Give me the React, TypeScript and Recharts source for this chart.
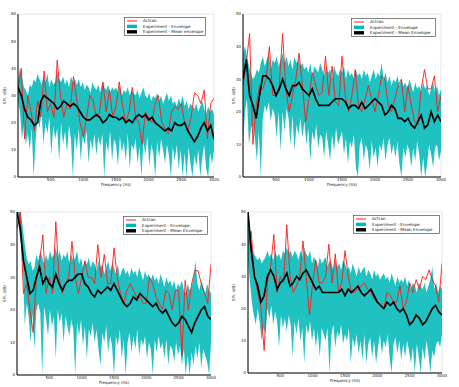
import React from "react";
import {
  ComposedChart,
  Line,
  Area,
  XAxis,
  YAxis,
  CartesianGrid,
} from "recharts";

// Frequency grids (Hz)
const FREQ_ENV = [
  0, 30, 60, 90, 120, 150, 180, 210, 240, 270,
  300, 330, 360, 390, 420, 450, 480, 510, 540, 570,
  600, 630, 660, 690, 720, 750, 780, 810, 840, 870,
  900, 930, 960, 990, 1020, 1050, 1080, 1110, 1140, 1170,
  1200, 1230, 1260, 1290, 1320, 1350, 1380, 1410, 1440, 1470,
  1500, 1530, 1560, 1590, 1620, 1650, 1680, 1710, 1740, 1770,
  1800, 1830, 1860, 1890, 1920, 1950, 1980, 2010, 2040, 2070,
  2100, 2130, 2160, 2190, 2220, 2250, 2280, 2310, 2340, 2370,
  2400, 2430, 2460, 2490, 2520, 2550, 2580, 2610, 2640, 2670,
  2700, 2730, 2760, 2790, 2820, 2850, 2880, 2910, 2940, 2970,
  3000,
];
const FREQ_LINE = [
  0, 50, 100, 150, 200, 250, 300, 350, 400, 450,
  500, 550, 600, 650, 700, 750, 800, 850, 900, 950,
  1000, 1050, 1100, 1150, 1200, 1250, 1300, 1350, 1400, 1450,
  1500, 1550, 1600, 1650, 1700, 1750, 1800, 1850, 1900, 1950,
  2000, 2050, 2100, 2150, 2200, 2250, 2300, 2350, 2400, 2450,
  2500, 2550, 2600, 2650, 2700, 2750, 2800, 2850, 2900, 2950,
  3000,
];
const X_TICKS = [500, 1000, 1500, 2000, 2500, 3000];

// Microphone 1
const mic1High = [
  35, 40, 37, 33, 32, 30, 34, 33, 36, 35,
  38, 36, 34, 37, 35, 38, 33, 36, 34, 35,
  39, 36, 35, 37, 34, 36, 33, 37, 35, 36,
  34, 36, 33, 35, 32, 34, 33, 31, 35, 33,
  32, 34, 31, 35, 33, 32, 34, 31, 33, 32,
  33, 31, 34, 30, 32, 31, 33, 30, 32, 31,
  30, 32, 29, 31, 33, 30, 29, 31, 28, 30,
  29, 31, 28, 30, 27, 29, 31, 28, 30, 27,
  28, 26, 29, 27, 30, 26, 28, 25, 27, 26,
  25, 27, 24, 26, 28, 25, 23, 26, 24, 25,
  23,
];
const mic1Low = [
  28, 24, 14, 20, 12, 16, 10, 18, 0, 14,
  22, 18, 24, 12, 20, 16, 22, 8, 19, 14,
  18, 6, 20, 12, 17, 9, 19, 14, 0, 16,
  10, 18, 6, 15, 12, 17, 5, 14, 10, 16,
  8, 15, 11, 16, 0, 13, 9, 17, 6, 14,
  12, 4, 15, 9, 13, 6, 16, 3, 12, 10,
  14, 5, 11, 0, 13, 8, 15, 4, 12, 9,
  0, 13, 7, 14, 10, 5, 12, 8, 0, 11,
  6, 12, 3, 10, 0, 9, 0, 11, 5, 0,
  8, 4, 10, 0, 7, 12, 3, 0, 9, 5,
  10,
];
const mic1Mean = [
  33, 30, 25, 22, 21, 19, 20, 28, 30, 29,
  28, 27, 25, 26, 28, 27, 26, 27, 26, 24,
  22, 21, 21, 22, 23, 22, 20, 21, 23, 22,
  22, 21, 22, 20, 21, 20, 22, 23, 22, 23,
  21, 22, 20, 19, 18, 17, 18, 17, 20, 19,
  19, 20, 17, 15, 13, 15, 18, 20, 17, 19,
  14,
];
const mic1Actran = [
  32, 40, 14, 30, 24, 17, 28, 22, 39, 24,
  27, 22, 43, 30, 22, 27, 25, 37, 28, 20,
  15, 22, 30, 28, 22, 24, 35, 24, 32, 22,
  26, 35, 26, 20, 24, 33, 22, 20, 12, 24,
  22, 20, 27, 30, 20, 18, 16, 24, 26, 25,
  27, 20, 17, 22, 31, 30, 27, 32, 14, 27,
  29,
];

// Microphone 2
const mic2High = [
  38, 40, 37, 34, 32, 30, 31, 33, 32, 35,
  37, 34, 36, 38, 33, 36, 35, 37, 34, 36,
  38, 35, 37, 34, 36, 33, 37, 35, 36, 34,
  35, 33, 34, 32, 35, 31, 34, 33, 32, 35,
  33, 31, 34, 32, 33, 30, 34, 32, 31, 33,
  32, 34, 30, 33, 31, 32, 30, 33, 31, 32,
  30, 33, 31, 32, 29, 31, 33, 30, 32, 31,
  35, 30, 32, 29, 31, 28, 30, 29, 31, 28,
  30, 28, 29, 27, 30, 28, 26, 29, 27, 28,
  26, 29, 27, 28, 25, 27, 29, 26, 28, 25,
  27,
];
const mic2Low = [
  10, 20, 24, 10, 15, 16, 12, 5, 14, 0,
  18, 22, 20, 23, 17, 21, 19, 12, 20, 8,
  20, 14, 21, 18, 10, 19, 8, 16, 13, 18,
  12, 17, 10, 15, 5, 14, 11, 16, 9, 13,
  12, 6, 14, 10, 5, 13, 8, 15, 10, 12,
  14, 7, 12, 4, 11, 9, 13, 3, 0, 10,
  12, 5, 10, 8, 2, 11, 6, 9, 3, 10,
  8, 12, 5, 10, 12, 7, 10, 6, 11, 4,
  0, 9, 6, 10, 8, 3, 9, 5, 11, 7,
  0, 6, 0, 4, 10, 7, 3, 9, 10, 5,
  8,
];
const mic2Mean = [
  30, 36, 25, 22, 18, 25, 31, 31, 30, 28,
  25, 27, 30, 27, 25, 28, 28, 29, 27, 26,
  25, 27, 24, 22, 22, 22, 22, 23, 24, 24,
  24, 23, 21, 22, 22, 21, 23, 21, 22, 23,
  24, 23, 22, 19, 20, 22, 21, 18, 18, 17,
  18, 16, 15, 17, 19, 15, 16, 20, 17, 19,
  17,
];
const mic2Actran = [
  28, 35, 44, 10, 22, 28, 27, 30, 40, 25,
  25, 28, 44, 27, 20, 25, 30, 38, 28, 17,
  24, 32, 28, 25, 26, 37, 25, 34, 23, 22,
  37, 25, 20, 25, 33, 22, 20, 24, 28, 24,
  20, 25, 31, 30, 22, 20, 24, 28, 30, 20,
  28, 22, 17, 16, 27, 33, 27, 27, 31, 20,
  25,
];

// Microphone 3
const mic3High = [
  50, 50, 50, 45, 40, 36, 34, 35, 32, 33,
  37, 35, 38, 36, 34, 37, 35, 38, 36, 37,
  39, 36, 38, 35, 37, 36, 38, 34, 37, 35,
  36, 38, 34, 36, 33, 35, 34, 36, 33, 35,
  34, 32, 35, 33, 34, 31, 33, 35, 32, 34,
  33, 31, 34, 30, 32, 33, 31, 32, 30, 33,
  31, 32, 30, 33, 31, 29, 32, 30, 31, 29,
  31, 29, 30, 28, 31, 29, 27, 30, 28, 29,
  27, 29, 26, 28, 27, 29, 26, 25, 28, 26,
  27, 30, 35, 28, 26, 29, 27, 25, 28, 26,
  25,
];
const mic3Low = [
  50, 45, 40, 35, 15, 22, 18, 10, 19, 8,
  20, 22, 19, 0, 21, 17, 12, 20, 15, 18,
  5, 20, 16, 19, 10, 18, 15, 12, 17, 14,
  0, 16, 12, 17, 9, 15, 5, 14, 12, 16,
  10, 14, 8, 3, 13, 10, 15, 7, 12, 9,
  0, 12, 9, 14, 5, 11, 0, 10, 13, 7,
  12, 8, 14, 6, 11, 9, 12, 5, 10, 8,
  0, 11, 7, 12, 8, 10, 5, 11, 3, 9,
  8, 4, 10, 6, 9, 3, 8, 0, 6, 0,
  7, 3, 9, 5, 10, 2, 8, 6, 4, 0,
  10,
];
const mic3Mean = [
  50, 45, 35, 30, 25, 26, 30, 33, 28, 30,
  28, 27, 31, 28, 26, 28, 29, 29, 30, 31,
  31, 28, 27, 25, 24, 26, 25, 26, 27, 26,
  28, 26, 24, 22, 21, 22, 24, 23, 25, 24,
  23, 22, 21, 22, 20, 19, 20, 18, 16, 15,
  16, 18, 17, 15, 13, 16, 18, 20, 21, 18,
  17,
];
const mic3Actran = [
  45, 50, 25, 28, 20, 13, 30, 35, 43, 25,
  30, 25, 47, 30, 25, 28, 30, 41, 30, 25,
  30, 35, 30, 30, 28, 40, 30, 37, 28, 28,
  39, 30, 25, 22, 26, 28, 26, 24, 24, 22,
  22, 30, 28, 24, 22, 20, 26, 25, 20, 26,
  26, 6, 29, 20, 28, 32, 32, 28, 25, 22,
  34,
];

// Microphone 4
const mic4High = [
  50, 45, 40, 37, 36, 35, 36, 34, 35, 36,
  38, 36, 37, 35, 38, 36, 37, 35, 38, 37,
  39, 37, 38, 36, 38, 37, 35, 38, 36, 39,
  37, 36, 38, 34, 36, 35, 33, 36, 34, 35,
  36, 33, 35, 34, 32, 35, 33, 34, 32, 35,
  34, 32, 33, 31, 34, 32, 30, 33, 31, 32,
  33, 30, 32, 31, 29, 32, 30, 31, 29, 30,
  31, 29, 30, 28, 31, 29, 27, 30, 28, 29,
  28, 30, 27, 29, 26, 28, 27, 25, 28, 27,
  26, 28, 25, 27, 29, 33, 26, 28, 25, 27,
  26,
];
const mic4Low = [
  35, 28, 22, 18, 15, 20, 16, 10, 14, 12,
  20, 17, 21, 15, 19, 16, 8, 18, 14, 17,
  13, 18, 15, 5, 16, 12, 17, 10, 14, 3,
  15, 12, 16, 10, 14, 8, 13, 5, 14, 12,
  10, 14, 0, 12, 15, 8, 13, 11, 15, 9,
  12, 10, 14, 3, 11, 8, 12, 6, 10, 4,
  12, 3, 9, 11, 5, 10, 3, 8, 12, 6,
  10, 8, 12, 5, 0, 9, 11, 6, 10, 4,
  9, 5, 10, 7, 3, 8, 0, 9, 5, 0,
  8, 4, 10, 6, 0, 7, 5, 9, 10, 8,
  12,
];
const mic4Mean = [
  50, 38, 30, 27, 22, 24, 30, 32, 30, 26,
  28, 29, 31, 27, 28, 30, 29, 31, 32, 30,
  28, 26, 27, 25, 25, 25, 25, 25, 25, 26,
  24, 26, 25, 26, 27, 25, 24, 25, 26, 24,
  22, 21, 20, 22, 21, 22, 20, 19, 20, 18,
  15, 16, 18, 17, 15, 16, 18, 20, 21, 19,
  18,
];
const mic4Actran = [
  40, 44, 30, 25, 20, 7, 28, 33, 43, 25,
  30, 28, 46, 30, 25, 27, 30, 41, 30, 18,
  28, 35, 28, 28, 30, 40, 28, 37, 25, 28,
  38, 30, 25, 25, 26, 27, 28, 26, 25, 23,
  22, 21, 20, 25, 24, 22, 22, 27, 20, 22,
  28, 25, 29, 26, 30, 29, 32, 29, 27, 22,
  34,
];

const RED = "#ff1a1a";
const CYAN = "#00b8b8";
const FONT = "DejaVu Sans, sans-serif";

const LegendBox = ({ width, meanLabel }: { width: number; meanLabel: string }) => {
  const rows = [
    { label: "Actran", color: RED, kind: "line" },
    { label: "Experiment - Envelope", color: CYAN, kind: "rect" },
    { label: meanLabel, color: "#000", kind: "rect" },
  ];
  return (
    <svg width={width} height={19} style={{ display: "block" }}>
      <rect x={0.5} y={0.5} width={width - 1} height={18} fill="#fff" stroke="#333" strokeWidth={0.6} />
      {rows.map((r, i) => {
        const cy = 4 + i * 5.4;
        return (
          <g key={i}>
            {r.kind === "line" ? (
              <line x1={3} x2={13} y1={cy} y2={cy} stroke={r.color} strokeWidth={1} />
            ) : (
              <rect x={3} y={cy - 1.7} width={10} height={3.4} fill={r.color} />
            )}
            <text x={19} y={cy + 1.4} fontSize={4.2} fontFamily={FONT} fill="#222">
              {r.label}
            </text>
          </g>
        );
      })}
    </svg>
  );
};

type PanelProps = {
  title: string;
  left: number;
  top: number;
  width: number;
  height: number;
  margin: { top: number; right: number; bottom: number; left: number };
  yAxisWidth: number;
  xAxisHeight: number;
  yMax: number;
  high: number[];
  low: number[];
  mean: number[];
  actran: number[];
  meanLabel: string;
  legendPos: { left: number; top: number; width: number };
};

const Panel = (p: PanelProps) => {
  const envData = FREQ_ENV.map((f, i) => ({ f, range: [p.low[i], p.high[i]] }));
  const meanData = FREQ_LINE.map((f, i) => ({ f, v: p.mean[i] }));
  const actranData = FREQ_LINE.map((f, i) => ({ f, v: p.actran[i] }));
  const yTicks: number[] = [];
  for (let t = 0; t <= p.yMax; t += 10) yTicks.push(t);

  return (
    <div style={{ position: "absolute", left: p.left, top: p.top }}>
      <ComposedChart width={p.width} height={p.height} margin={p.margin}>
        <CartesianGrid stroke="#d6d6d6" strokeWidth={0.6} />
        <XAxis
          xAxisId="main"
          type="number"
          dataKey="f"
          domain={[0, 3000]}
          ticks={X_TICKS}
          allowDataOverflow
          height={p.xAxisHeight}
          tickLine={false}
          tickSize={0}
          tickMargin={1}
          stroke="#000"
          tick={{ fontSize: 4, fill: "#222", fontFamily: FONT }}
          label={{ value: "Frequency (Hz)", position: "insideTop", offset: 5.8, fontSize: 4, fill: "#222", fontFamily: FONT }}
        />
        <XAxis
          xAxisId="top"
          orientation="top"
          type="number"
          dataKey="f"
          domain={[0, 3000]}
          height={0}
          tick={false}
          tickLine={false}
          stroke="#000"
          label={{ value: p.title, position: "insideBottom", offset: 2, fontSize: 4.2, fill: "#222", fontFamily: FONT }}
        />
        <YAxis
          yAxisId="main"
          type="number"
          domain={[0, p.yMax]}
          ticks={yTicks}
          allowDataOverflow
          width={p.yAxisWidth}
          tickLine={false}
          tickSize={0}
          tickMargin={2}
          stroke="#000"
          tick={{ fontSize: 4, fill: "#222", fontFamily: FONT }}
          label={{ value: "SPL (dB)", angle: -90, position: "insideLeft", offset: 5, fontSize: 4, fill: "#222", fontFamily: FONT, style: { textAnchor: "middle" } }}
        />
        <YAxis
          yAxisId="right"
          orientation="right"
          type="number"
          domain={[0, p.yMax]}
          width={0}
          tick={false}
          tickLine={false}
          stroke="#000"
        />
        <Line
          xAxisId="main"
          yAxisId="main"
          data={actranData}
          dataKey="v"
          name="Actran"
          type="linear"
          stroke={RED}
          strokeWidth={0.9}
          dot={false}
          isAnimationActive={false}
        />
        <Area
          xAxisId="main"
          yAxisId="main"
          data={envData}
          dataKey="range"
          name="Experiment - Envelope"
          type="linear"
          stroke="none"
          fill={CYAN}
          fillOpacity={0.88}
          isAnimationActive={false}
        />
        <Line
          xAxisId="main"
          yAxisId="main"
          data={meanData}
          dataKey="v"
          name={p.meanLabel}
          type="linear"
          stroke="#000"
          strokeWidth={1.7}
          dot={false}
          isAnimationActive={false}
        />
      </ComposedChart>
      <div style={{ position: "absolute", left: p.legendPos.left, top: p.legendPos.top }}>
        <LegendBox width={p.legendPos.width} meanLabel={p.meanLabel} />
      </div>
    </div>
  );
};

export default function App() {
  return (
    <div style={{ position: "absolute", left: 0, top: 0, width: 459, height: 387, background: "#fff", overflow: "hidden" }}>
      <Panel
        title="Microphone 1"
        left={0}
        top={0}
        width={229}
        height={195}
        margin={{ top: 14, right: 15, bottom: 0, left: 0 }}
        yAxisWidth={18}
        xAxisHeight={18}
        yMax={60}
        high={mic1High}
        low={mic1Low}
        mean={mic1Mean}
        actran={mic1Actran}
        meanLabel="Experiment - Mean envelope"
        legendPos={{ left: 124, top: 17, width: 82 }}
      />
      <Panel
        title="Microphone 2"
        left={229}
        top={0}
        width={230}
        height={195}
        margin={{ top: 14, right: 18, bottom: 0, left: 0 }}
        yAxisWidth={14}
        xAxisHeight={18}
        yMax={50}
        high={mic2High}
        low={mic2Low}
        mean={mic2Mean}
        actran={mic2Actran}
        meanLabel="Experiment - Mean Envelope"
        legendPos={{ left: 122, top: 18, width: 85 }}
      />
      <Panel
        title="Microphone 3"
        left={0}
        top={195}
        width={229}
        height={192}
        margin={{ top: 17, right: 18, bottom: 0, left: 0 }}
        yAxisWidth={17}
        xAxisHeight={12}
        yMax={50}
        high={mic3High}
        low={mic3Low}
        mean={mic3Mean}
        actran={mic3Actran}
        meanLabel="Experiment - Mean Envelope"
        legendPos={{ left: 123, top: 21, width: 85 }}
      />
      <Panel
        title="Microphone 4"
        left={229}
        top={195}
        width={230}
        height={192}
        margin={{ top: 17, right: 17, bottom: 0, left: 0 }}
        yAxisWidth={19}
        xAxisHeight={14}
        yMax={50}
        high={mic4High}
        low={mic4Low}
        mean={mic4Mean}
        actran={mic4Actran}
        meanLabel="Experiment - Mean Envelope"
        legendPos={{ left: 124, top: 20, width: 87 }}
      />
    </div>
  );
}
